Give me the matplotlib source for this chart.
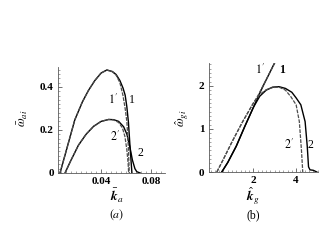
import matplotlib
matplotlib.use("Agg")
import matplotlib.pyplot as plt
from matplotlib.ticker import MultipleLocator

plt.rcParams['font.family'] = ['Liberation Serif', 'DejaVu Serif']
plt.rcParams['mathtext.fontset'] = 'stix'

# panel (a): omega_ai vs k_a
ka_1 = [0.0072, 0.012, 0.019, 0.025, 0.030, 0.035, 0.040, 0.0446, 0.049, 0.052, 0.055,
        0.0575, 0.0592, 0.0605, 0.0618, 0.0632, 0.0646]
wa_1 = [0, 0.10, 0.247, 0.33, 0.385, 0.43, 0.465, 0.479, 0.472, 0.458, 0.43,
        0.395, 0.362, 0.31, 0.237, 0.113, 0]
ka_1p = [0.0072, 0.012, 0.019, 0.025, 0.030, 0.035, 0.040, 0.0446, 0.049, 0.052, 0.055,
         0.0574, 0.0592, 0.0606, 0.0618, 0.0625]
wa_1p = [0, 0.10, 0.247, 0.33, 0.385, 0.43, 0.465, 0.479, 0.471, 0.455, 0.42,
         0.362, 0.30, 0.237, 0.113, 0]
ka_2 = [0.0112, 0.016, 0.022, 0.028, 0.034, 0.040, 0.046, 0.050, 0.054, 0.058,
        0.0606, 0.063, 0.065, 0.067, 0.0685, 0.0712]
wa_2 = [0, 0.06, 0.13, 0.18, 0.217, 0.24, 0.249, 0.248, 0.24, 0.215,
        0.18, 0.12, 0.06, 0.02, 0.006, 0]
ka_2p = [0.0112, 0.016, 0.022, 0.028, 0.034, 0.040, 0.046, 0.050, 0.054, 0.057,
         0.059, 0.0605, 0.0615, 0.062]
wa_2p = [0, 0.06, 0.13, 0.18, 0.217, 0.24, 0.249, 0.247, 0.235, 0.21,
         0.17, 0.11, 0.05, 0]

# panel (b): omega_gi vs k_g
kg_1 = [0.52, 0.8, 1.2, 1.6, 2.0, 2.2, 2.5, 3.0]
wg_1 = [0, 0.22, 0.6, 1.06, 1.5, 1.73, 2.04, 2.54]
kg_1p = [0.29, 0.6, 1.0, 1.5, 2.0, 2.2, 2.5, 3.0]
wg_1p = [0, 0.3, 0.7, 1.17, 1.6, 1.76, 2.05, 2.53]
kg_2 = [0.52, 0.8, 1.2, 1.6, 2.0, 2.3, 2.6, 2.9, 3.2, 3.5, 3.8, 4.0, 4.22, 4.42,
        4.52, 4.58, 4.65, 4.8, 4.97]
wg_2 = [0, 0.22, 0.6, 1.06, 1.5, 1.76, 1.9, 1.97, 1.98, 1.94, 1.85, 1.72, 1.56, 1.17,
        0.6, 0.12, 0.05, 0.04, 0]
kg_2p = [0.29, 0.6, 1.0, 1.5, 2.0, 2.3, 2.6, 2.9, 3.2, 3.5, 3.75, 4.0, 4.15, 4.25, 4.31]
wg_2p = [0, 0.3, 0.7, 1.17, 1.6, 1.8, 1.91, 1.96, 1.97, 1.9, 1.75, 1.56, 1.17, 0.5, 0]

W, H = 332, 249
fig = plt.figure(figsize=(W / 100, H / 100), dpi=100)


def px(x, y):
    return x / W, 1 - y / H


def style(ax):
    for s in ['top', 'right']:
        ax.spines[s].set_visible(False)
    for s in ['left', 'bottom']:
        ax.spines[s].set_linewidth(0.6)
        ax.spines[s].set_color('0.35')
    ax.tick_params(which='major', direction='in', length=3, width=0.6, color='0.35',
                   labelsize=8, pad=3)
    ax.tick_params(which='minor', direction='in', length=1.5, width=0.5, color='0.5')
    for lab in ax.get_xticklabels() + ax.get_yticklabels():
        lab.set_fontweight('bold')


solid = dict(color='black', lw=1.0)
dashed = dict(color='0.3', lw=0.9, ls=(0, (3, 1.0)))

ax1 = fig.add_axes([58 / W, 1 - 173 / H, 107 / W, 106 / H])
ax1.plot(ka_1, wa_1, **solid)
ax1.plot(ka_2, wa_2, **solid)
ax1.plot(ka_1p, wa_1p, **dashed)
ax1.plot(ka_2p, wa_2p, **dashed)
ax1.set_xlim(0.0056, 0.091)
ax1.set_ylim(0, 0.493)
ax1.set_xticks([0.04, 0.08])
ax1.set_xticklabels(['0.04', '0.08'])
ax1.set_yticks([0, 0.2, 0.4])
ax1.set_yticklabels(['0', '0.2', '0.4'])
ax1.xaxis.set_minor_locator(MultipleLocator(0.004))
ax1.yaxis.set_minor_locator(MultipleLocator(0.02))
style(ax1)

ax2 = fig.add_axes([208.5 / W, 1 - 172 / H, 109 / W, 109 / H])
ax2.plot(kg_1, wg_1, **solid)
ax2.plot(kg_2, wg_2, **solid)
ax2.plot(kg_1p, wg_1p, **dashed)
ax2.plot(kg_2p, wg_2p, **dashed)
ax2.set_xlim(-0.1, 5.0)
ax2.set_ylim(0, 2.53)
ax2.set_xticks([2, 4])
ax2.set_xticklabels(['2', '4'])
ax2.set_yticks([0, 1, 2])
ax2.set_yticklabels(['0', '1', '2'])
ax2.xaxis.set_minor_locator(MultipleLocator(0.2))
ax2.yaxis.set_minor_locator(MultipleLocator(0.1))
style(ax2)

# curve labels
lab = dict(fontsize=8.5, ha='center', va='center')
fig.text(*px(113, 100), r'$1^{\prime}$', **lab)
fig.text(*px(132, 100), '1', **lab)
fig.text(*px(115, 137), r'$2^{\prime}$', **lab)
fig.text(*px(140, 153), '2', **lab)
fig.text(*px(260, 70), r'$1^{\prime}$', **lab)
fig.text(*px(282, 70), '1', fontweight='bold', fontsize=8.5, ha='center', va='center')
fig.text(*px(289, 145), r'$2^{\prime}$', **lab)
fig.text(*px(310, 145), '2', **lab)

# axis labels
fig.text(*px(23, 118), r'$\bar{\omega}_{ai}$', rotation=90, fontsize=9,
         ha='center', va='center')
fig.text(*px(182, 118), r'$\hat{\omega}_{gi}$', rotation=90, fontsize=9,
         ha='center', va='center')
fig.text(*px(117, 201), r'$\bar{\boldsymbol{k}}_a$', fontsize=9.5, ha='center',
         va='baseline')
fig.text(*px(253, 201), r'$\hat{\boldsymbol{k}}_g$', fontsize=9.5, ha='center',
         va='baseline')
fig.text(*px(117, 215), r'$(a)$', fontsize=8.5, ha='center', va='center')
fig.text(*px(253, 215), '(b)', fontsize=8.5, ha='center', va='center')

fig.savefig('out.png', dpi=100)
